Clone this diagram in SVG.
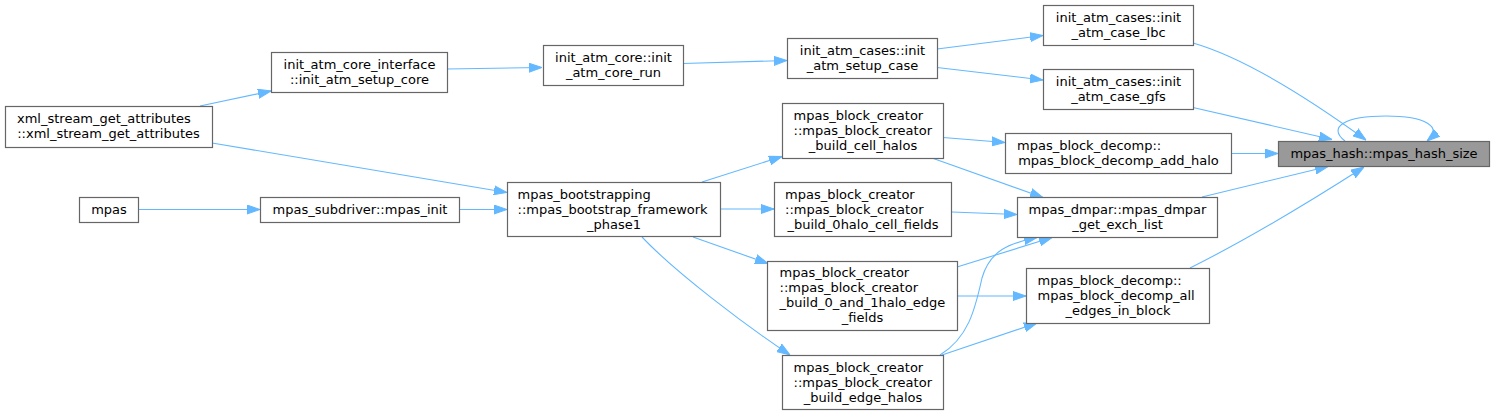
<svg xmlns="http://www.w3.org/2000/svg" width="1495" height="415" viewBox="0 0 1495 415">
<style>
.n rect{fill:#fff;stroke:#666;stroke-width:1.2}
.n text{font-family:"DejaVu Sans",sans-serif;font-size:13px;fill:#000}
.m{text-anchor:middle}
.s{text-anchor:start}
.e path{fill:none;stroke:#63b8ff;stroke-width:1.1;marker-end:url(#ah)}
</style>
<defs>
<marker id="ah" viewBox="0 0 13 10" refX="13" refY="5" markerWidth="13" markerHeight="10" markerUnits="userSpaceOnUse" orient="auto">
<path d="M0,0.5 L13,5 L0,9.5 z" fill="#63b8ff" stroke="#63b8ff" stroke-width="1"/>
</marker>
</defs>
<rect width="1495" height="415" fill="#fff"/>
<g class="e" id="edges">
<path d="M200,106 L271,91"/>
<path d="M447,69 L542,67.5"/>
<path d="M683,63.5 L787,60.5"/>
<path d="M937,49 L1043,35.5"/>
<path d="M937,67.5 L1043,80"/>
<path d="M1193,43 C1235,55 1290,85 1366,140"/>
<path d="M1193,107.5 L1332,139.5"/>
<path d="M1231,153.5 L1278,153.5"/>
<path d="M1345,141 C1327,127 1345,116 1386,116 C1425,116 1444,127 1427,141"/>
<path d="M1202,197 L1328,166.5"/>
<path d="M1190,268 C1240,243 1300,208 1364,167"/>
<path d="M212,143 L507,192.5"/>
<path d="M138,209.5 L260,209.5"/>
<path d="M459,209.5 L507,209.5"/>
<path d="M702,182 L782,156.5"/>
<path d="M720,209 L774,209"/>
<path d="M693,237 L768,263.5"/>
<path d="M642,237 C675,272 745,325 790,355"/>
<path d="M943,137.5 L1005,142.5"/>
<path d="M932,158 L1043,197.5"/>
<path d="M952,212 L1017,214.5"/>
<path d="M957,267 L1052,237.5"/>
<path d="M957,296 L1026,296"/>
<path d="M942,355 L1037,323"/>
<path d="M940,355 C968,338 975,310 982,278 C990,250 1010,243 1037,237.5"/>
</g>
<g class="n" id="n_xml"><rect x="5.5" y="106.5" width="207" height="41"/><text class="s" x="17" y="123">xml_stream_get_attributes</text><text class="m" x="108.5" y="138">::xml_stream_get_attributes</text></g>
<g class="n" id="n_setup_core"><rect x="271.5" y="52.5" width="176" height="40"/><text class="m" x="359.5" y="68.5">init_atm_core_interface</text><text class="m" x="359.5" y="83.5">::init_atm_setup_core</text></g>
<g class="n" id="n_core_run"><rect x="543.5" y="45.5" width="140" height="40"/><text class="m" x="613.5" y="61.5">init_atm_core::init</text><text class="m" x="613.5" y="76.5">_atm_core_run</text></g>
<g class="n" id="n_setup_case"><rect x="787.5" y="38.5" width="150" height="40"/><text class="m" x="862.5" y="55">init_atm_cases::init</text><text class="m" x="862.5" y="70">_atm_setup_case</text></g>
<g class="n" id="n_lbc"><rect x="1043.5" y="5.5" width="150" height="40"/><text class="m" x="1118.5" y="21.5">init_atm_cases::init</text><text class="m" x="1118.5" y="36.5">_atm_case_lbc</text></g>
<g class="n" id="n_gfs"><rect x="1043.5" y="69.5" width="150" height="40"/><text class="m" x="1118.5" y="85.5">init_atm_cases::init</text><text class="m" x="1118.5" y="100.5">_atm_case_gfs</text></g>
<g class="n" id="n_add_halo"><rect x="1005.5" y="133.5" width="226" height="40"/><text class="s" x="1017" y="149.5">mpas_block_decomp::</text><text class="m" x="1118.5" y="164.5">mpas_block_decomp_add_halo</text></g>
<g class="n" id="n_hash"><rect x="1278.5" y="141.5" width="211" height="25" style="fill:#999"/><text class="m" x="1384" y="158">mpas_hash::mpas_hash_size</text></g>
<g class="n" id="n_cell_halos"><rect x="782.5" y="103.5" width="161" height="55"/><text class="s" x="793.5" y="120">mpas_block_creator</text><text class="s" x="793.5" y="135">::mpas_block_creator</text><text class="m" x="863" y="150">_build_cell_halos</text></g>
<g class="n" id="n_bootstrap"><rect x="507.5" y="182.5" width="213" height="54"/><text class="s" x="517.5" y="198.5">mpas_bootstrapping</text><text class="s" x="517.5" y="213.5">::mpas_bootstrap_framework</text><text class="m" x="614" y="228.5">_phase1</text></g>
<g class="n" id="n_0halo"><rect x="774.5" y="182.5" width="177" height="54"/><text class="s" x="785" y="198.5">mpas_block_creator</text><text class="s" x="785" y="213.5">::mpas_block_creator</text><text class="m" x="863" y="228.5">_build_0halo_cell_fields</text></g>
<g class="n" id="n_exch"><rect x="1017.5" y="197.5" width="200" height="40"/><text class="m" x="1117.5" y="213.5">mpas_dmpar::mpas_dmpar</text><text class="m" x="1117.5" y="228.5">_get_exch_list</text></g>
<g class="n" id="n_01halo"><rect x="767.5" y="261.5" width="190" height="69"/><text class="s" x="779.5" y="277">mpas_block_creator</text><text class="s" x="779.5" y="292">::mpas_block_creator</text><text class="s" x="779.5" y="307">_build_0_and_1halo_edge</text><text class="m" x="862.5" y="322">_fields</text></g>
<g class="n" id="n_all_edges"><rect x="1026.5" y="268.5" width="183" height="55"/><text class="s" x="1037.5" y="285">mpas_block_decomp::</text><text class="s" x="1037.5" y="300">mpas_block_decomp_all</text><text class="m" x="1118" y="315">_edges_in_block</text></g>
<g class="n" id="n_edge_halos"><rect x="782.5" y="355.5" width="161" height="54"/><text class="s" x="793.5" y="371.5">mpas_block_creator</text><text class="s" x="793.5" y="386.5">::mpas_block_creator</text><text class="m" x="863" y="401.5">_build_edge_halos</text></g>
<g class="n" id="n_mpas"><rect x="79.5" y="197.5" width="59" height="25"/><text class="m" x="109" y="214">mpas</text></g>
<g class="n" id="n_init"><rect x="260.5" y="197.5" width="199" height="25"/><text class="m" x="360" y="214">mpas_subdriver::mpas_init</text></g>
</svg>
